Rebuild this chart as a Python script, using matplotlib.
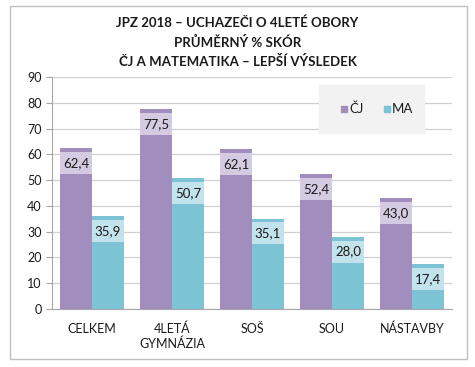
import matplotlib.pyplot as plt
from matplotlib.patches import Rectangle
import numpy as np

plt.rcParams['font.family'] = ['Lato', 'DejaVu Sans']

categories = ['CELKEM', '4LETÁ\nGYMNÁZIA', 'SOŠ', 'SOU', 'NÁSTAVBY']
cj = [62.4, 77.5, 62.1, 52.4, 43.0]
ma = [35.9, 50.7, 35.1, 28.0, 17.4]
series_names = ['ČJ', 'MA']
title_lines = ['JPZ 2018 – UCHAZEČI O 4LETÉ OBORY', 'PRŮMĚRNÝ % SKÓR',
               'ČJ A MATEMATIKA – LEPŠÍ VÝSLEDEK']

c_cj = '#A28DBF'
c_ma = '#7CC3D5'

fig = plt.figure(figsize=(4.75, 3.67), dpi=100)
ax = fig.add_axes([52 / 475, 1 - 309 / 367, 400 / 475, 232 / 367])

# outer chart border
fig.patches.append(Rectangle((10 / 475, 1 - 359 / 367), 457 / 475, 353 / 367,
                             transform=fig.transFigure, fill=False,
                             edgecolor='#BFBFBF', linewidth=1))

x = np.arange(len(categories))
w = 0.4
cap = 1.5
box = 8.5
for vals, off, col in [(cj, -w / 2, c_cj), (ma, w / 2, c_ma)]:
    ax.bar(x + off, vals, w, color=col, zorder=2)
    vals = np.array(vals)
    ax.bar(x + off, box, w, bottom=vals - cap - box, color='white',
           alpha=0.55, linewidth=0, zorder=3)
    for xi, v in zip(x + off, vals):
        ax.text(xi, v - cap - box / 2, f'{v:.1f}'.replace('.', ','),
                ha='center', va='center', fontsize=9.5, color='#1a1a1a', zorder=4)

ax.set_xlim(-0.5, len(categories) - 0.5)
ax.set_ylim(0, 90)
ax.set_yticks(range(0, 91, 10))
ax.set_xticks(x)
ax.set_xticklabels(categories, fontsize=9, color='#1a1a1a')
ax.tick_params(axis='y', labelsize=9, colors='#1a1a1a', length=4, color='#A6A6A6')
ax.tick_params(axis='x', length=0, pad=10)
ax.grid(axis='y', color='#D0D0D0', linewidth=0.9, zorder=0)
ax.set_axisbelow(True)
for s in ['top', 'right']:
    ax.spines[s].set_visible(False)
for s in ['left', 'bottom']:
    ax.spines[s].set_color('#A6A6A6')

# legend
lx0, ly0 = 319 / 475, 1 - 133 / 367
fig.patches.append(Rectangle((lx0, ly0), 105 / 475, 48 / 367,
                             transform=fig.transFigure, color='#F2F2F2', zorder=5))
for i, (name, col) in enumerate(zip(series_names, [c_cj, c_ma])):
    mx = (341 + i * 43) / 475
    my = 1 - 109 / 367
    fig.patches.append(Rectangle((mx, my - 3 / 367), 6 / 475, 6 / 367,
                                 transform=fig.transFigure, color=col, zorder=6))
    fig.text(mx + 8 / 475, my, name, fontsize=9.5, va='center', ha='left',
             color='#1a1a1a', zorder=7)

for i, line in enumerate(title_lines):
    fig.text(0.5, 1 - (23 + 19.5 * i) / 367, line, ha='center', va='center',
             fontsize=9.5, fontweight='bold', color='#1a1a1a')

fig.savefig('out.png', dpi=100)
